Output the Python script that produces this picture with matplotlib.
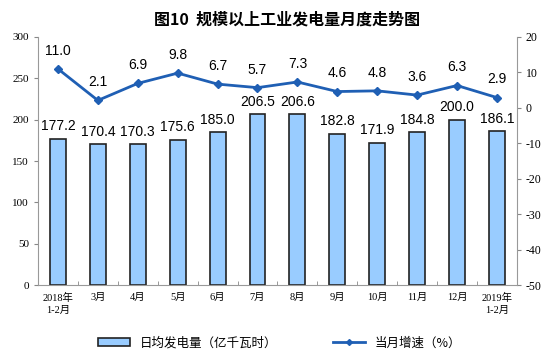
import matplotlib
matplotlib.use("Agg")
import matplotlib.pyplot as plt
from matplotlib.lines import Line2D
from matplotlib.patches import Patch
import numpy as np

plt.rcParams['font.family'] = ['Noto Sans CJK SC', 'DejaVu Sans']
plt.rcParams['axes.unicode_minus'] = False

categories = ["2018年\n1-2月", "3月", "4月", "5月", "6月", "7月", "8月",
              "9月", "10月", "11月", "12月", "2019年\n1-2月"]
daily_output = [177.2, 170.4, 170.3, 175.6, 185.0, 206.5, 206.6,
                182.8, 171.9, 184.8, 200.0, 186.1]
growth = [11.0, 2.1, 6.9, 9.8, 6.7, 5.7, 7.3, 4.6, 4.8, 3.6, 6.3, 2.9]

bar_color = "#99CCFF"
line_color = "#1F5FB4"
tick_font = ['Liberation Serif', 'Noto Sans CJK SC']

fig = plt.figure(figsize=(5.54, 3.59), dpi=100)
ax = fig.add_axes([0.0686, 0.206, 0.8644, 0.691])
ax2 = ax.twinx()

x = np.arange(len(categories))
ax.bar(x, daily_output, width=0.4, color=bar_color, edgecolor="#222222", linewidth=1.2, zorder=2)
for xi, v in zip(x, daily_output):
    ax.annotate(f"{v:.1f}", (xi, v), xytext=(0, 4), textcoords="offset points",
                ha="center", va="bottom", fontsize=10, family="Liberation Sans")

ax2.plot(x, growth, color=line_color, linewidth=2, marker="D", markersize=4, zorder=3)
for xi, v in zip(x, growth):
    ax2.annotate(f"{v:.1f}", (xi, v), xytext=(0, 8), textcoords="offset points",
                 ha="center", va="bottom", fontsize=10, family="Liberation Sans")

ax.set_xlim(-0.5, len(categories) - 0.5)
ax.set_ylim(0, 300)
ax.set_yticks(range(0, 301, 50))
ax2.set_ylim(-50, 20)
ax2.set_yticks(range(-50, 21, 10))

ax.set_xticks(x)
ax.set_xticklabels(categories, fontsize=7.5, family=tick_font, linespacing=1.3)
ax.set_xticks(np.arange(-0.5, len(categories)), minor=True)
ax.tick_params(axis="x", which="major", length=0, pad=6)
ax.tick_params(axis="x", which="minor", length=3, direction="in", color="#888888")
ax.tick_params(axis="y", length=3, color="#888888", labelsize=8)
ax2.tick_params(axis="y", length=3, color="#888888", labelsize=8.5)
for lab in ax.get_yticklabels() + ax2.get_yticklabels():
    lab.set_family(tick_font)

for a in (ax, ax2):
    a.spines["top"].set_visible(False)
    for s in ("left", "right", "bottom"):
        a.spines[s].set_color("#999999")
ax.spines["right"].set_visible(False)
ax2.spines["left"].set_visible(False)
ax2.spines["bottom"].set_visible(False)

fig.text(0.518, 0.945, "图10  规模以上工业发电量月度走势图", ha="center", va="center",
         fontsize=11.5, fontweight="bold")

handles = [Patch(facecolor=bar_color, edgecolor="#222222", linewidth=1.2),
           Line2D([0], [0], color=line_color, linewidth=2, marker="D", markersize=3)]
fig.legend(handles, ["日均发电量（亿千瓦时）", "当月增速（%）"], loc="center",
           bbox_to_anchor=(0.505, 0.045), ncol=2, frameon=False, fontsize=9,
           handlelength=2.5, handleheight=0.6, columnspacing=4.5)

fig.savefig("out.png", dpi=100)
